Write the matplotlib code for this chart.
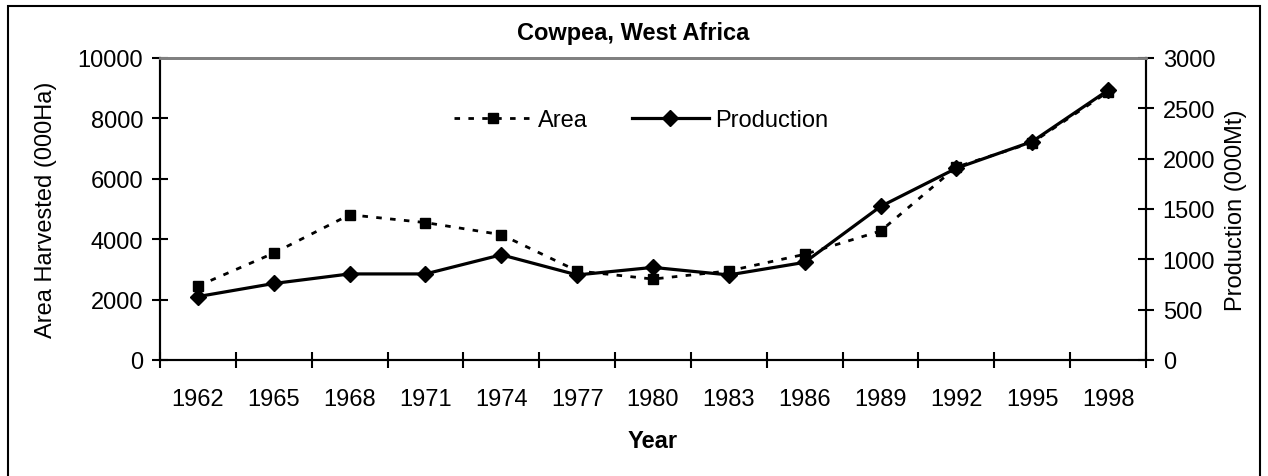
import numpy as np
import matplotlib.pyplot as plt
from matplotlib.patches import Rectangle

plt.rcParams["font.family"] = ["Liberation Sans", "DejaVu Sans"]

years = ["1962", "1965", "1968", "1971", "1974", "1977", "1980",
         "1983", "1986", "1989", "1992", "1995", "1998"]
area = [2450, 3540, 4810, 4550, 4150, 2950, 2680,
        2950, 3500, 4270, 6390, 7200, 8880]
production = [630, 760, 855, 855, 1045, 845, 920,
              845, 970, 1525, 1905, 2170, 2680]

fs = 17

fig = plt.figure(figsize=(12.68, 4.77), dpi=100)
ax = fig.add_axes([160 / 1268, 1 - 361 / 477, 986 / 1268, 302 / 477])
ax2 = ax.twinx()

x = np.arange(len(years))
la, = ax.plot(x, area, linestyle=(0, (2, 3)), color="black", lw=2,
              marker="s", ms=7, label="Area")
lp, = ax2.plot(x, production, color="black", lw=2.3,
               marker="D", ms=8.5, label="Production")

ax.set_xlim(-0.5, len(years) - 0.5)
ax.set_ylim(0, 10000)
ax2.set_ylim(0, 3000)
ax.set_yticks(np.arange(0, 10001, 2000))
ax2.set_yticks(np.arange(0, 3001, 500))

ax.set_xticks(x)
ax.set_xticklabels(years)
ax.set_xticks(np.arange(-0.5, len(years), 1), minor=True)
ax.tick_params(axis="x", which="major", length=0, pad=20, labelsize=fs)
ax.tick_params(axis="x", which="minor", length=12, width=1.5, direction="inout")
ax.tick_params(axis="y", length=12, width=1.5, direction="inout", labelsize=fs, pad=6)
ax2.tick_params(axis="y", length=12, width=1.5, direction="inout", labelsize=fs, pad=6)

for a in (ax, ax2):
    a.spines["top"].set_color("#808080")
    a.spines["top"].set_linewidth(2)
    for s in ("left", "right", "bottom"):
        a.spines[s].set_linewidth(1.5)

ax.set_ylabel("Area Harvested (000Ha)", fontsize=fs, labelpad=15)
ax2.set_ylabel("Production (000Mt)", fontsize=fs, labelpad=7)
ax.set_xlabel("Year", fontsize=fs, fontweight="bold", labelpad=14)
ax.set_title("Cowpea, West Africa", fontsize=fs, fontweight="bold", pad=14, x=0.48)

ax2.legend([la, lp], ["Area", "Production"], loc="center",
           bbox_to_anchor=(0.488, 0.795), ncol=2, frameon=False, fontsize=fs,
           handlelength=3.3, columnspacing=1.86, handletextpad=0.25)

fig.patches.append(Rectangle((8 / 1268, -0.05), 1252 / 1268, 1.05 - 7 / 477,
                             transform=fig.transFigure, fill=False,
                             edgecolor="black", lw=1.5))

fig.savefig("out.png", dpi=100)
